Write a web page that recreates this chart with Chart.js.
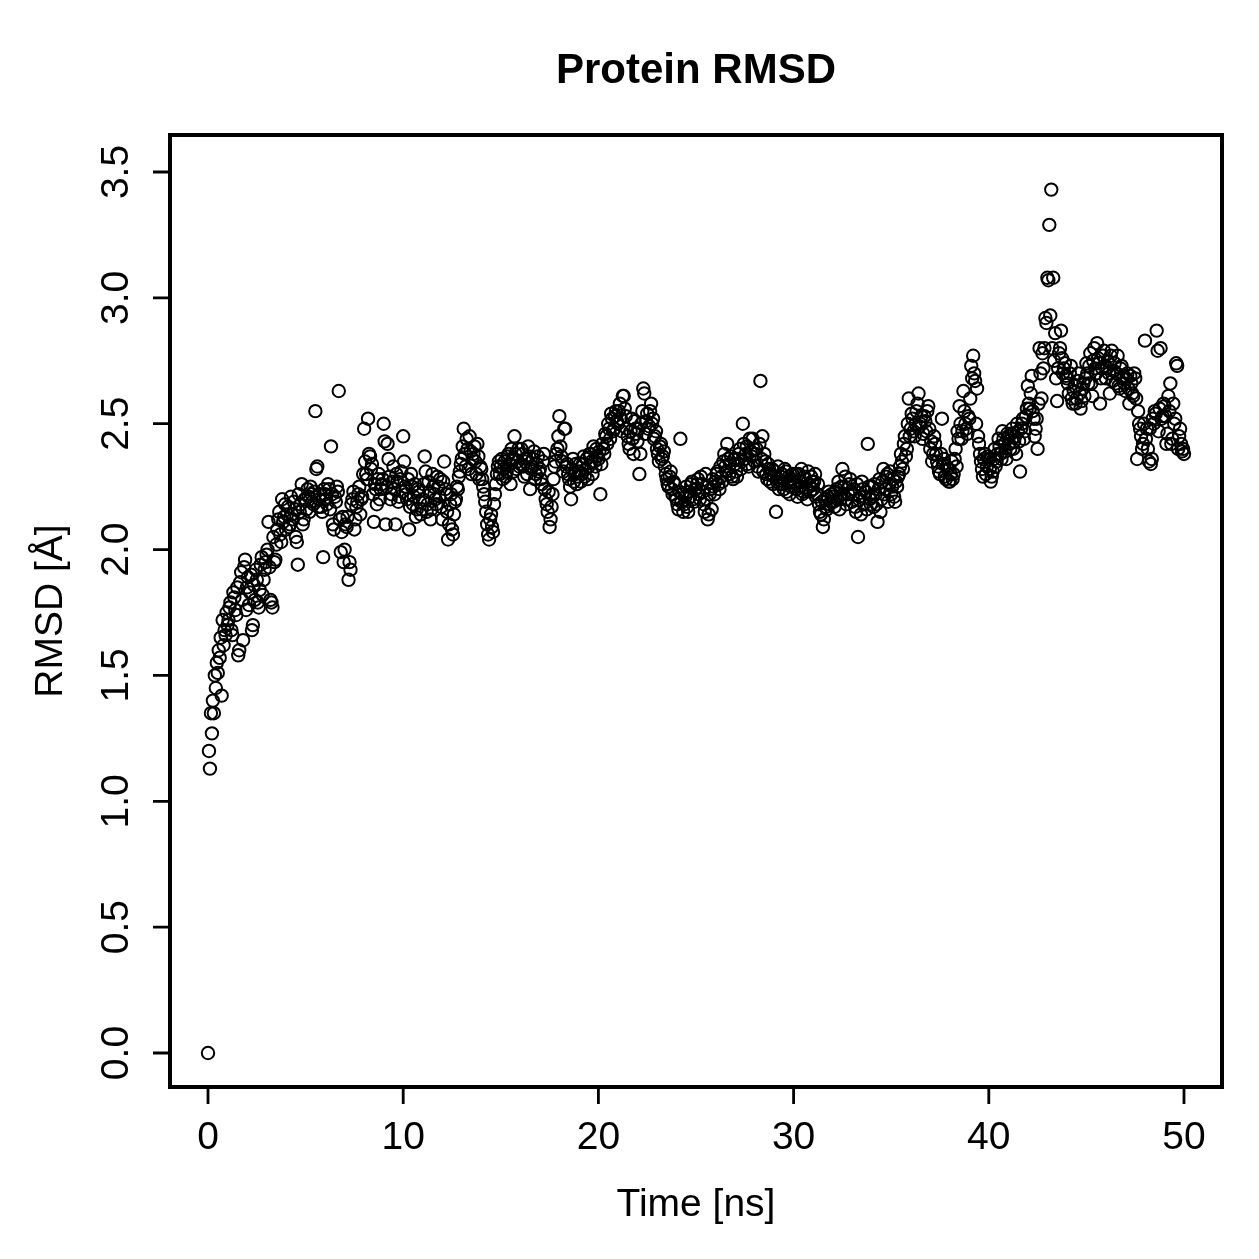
<!DOCTYPE html>
<html>
<head>
<meta charset="utf-8">
<script src="https://cdn.jsdelivr.net/npm/chart.js@4"></script>
<style>
  html, body { margin: 0; padding: 0; background: #fff; }
  #rmsdChart { display: block; }
</style>
</head>
<body>
<canvas id="rmsdChart" width="1259" height="1259"></canvas>
<script>
const chartTitle = 'Protein RMSD';
const xAxisTitle = 'Time [ns]';
const yAxisTitle = 'RMSD [Å]';
const xTicks = [0, 10, 20, 30, 40, 50];
const yTicks = [0.0, 0.5, 1.0, 1.5, 2.0, 2.5, 3.0, 3.5];
const frameStep = 0.1; // ns between rows of rmsdFrames

// RMSD at t = 0.0, 0.1, ... 50.0 ns (one row per ns)
const rmsdFrames = [
    0.00, 1.13, 1.27, 1.35, 1.45, 1.51, 1.57, 1.42, 1.62, 1.66,
    1.70, 1.77, 1.68, 1.83, 1.76, 1.85, 1.60, 1.91, 1.64, 1.96,
    1.85, 1.78, 1.90, 1.70, 1.80, 1.88, 1.77, 1.94, 1.82, 1.92,
    1.98, 2.11, 1.80, 1.77, 1.95, 2.02, 2.12, 2.06, 2.20, 2.13,
    2.08, 2.17, 2.10, 2.14, 2.19, 2.05, 1.94, 2.15, 2.26, 2.12,
    2.20, 2.24, 2.15, 2.22, 2.18, 2.55, 2.33, 2.20, 2.17, 1.97,
    2.22, 2.18, 2.24, 2.41, 2.10, 2.21, 2.25, 2.63, 1.99, 2.13,
    2.00, 2.09, 1.88, 1.92, 2.20, 2.08, 2.17, 2.22, 2.14, 2.21,
    2.48, 2.30, 2.52, 2.37, 2.34, 2.11, 2.24, 2.28, 2.20, 2.26,
    2.50, 2.10, 2.42, 2.29, 2.22, 2.33, 2.10, 2.27, 2.21, 2.31,
    2.45, 2.25, 2.20, 2.08, 2.30, 2.18, 2.26, 2.16, 2.23, 2.14,
    2.20, 2.37, 2.15, 2.27, 2.12, 2.30, 2.22, 2.18, 2.25, 2.28,
    2.12, 2.35, 2.22, 2.04, 2.18, 2.08, 2.14, 2.20, 2.24, 2.31,
    2.36, 2.48, 2.33, 2.40, 2.45, 2.30, 2.38, 2.35, 2.42, 2.28,
    2.32, 2.25, 2.19, 2.10, 2.04, 2.14, 2.07, 2.22, 2.30, 2.35,
    2.33, 2.28, 2.35, 2.31, 2.38, 2.26, 2.36, 2.45, 2.32, 2.40,
    2.34, 2.38, 2.29, 2.36, 2.41, 2.24, 2.33, 2.39, 2.30, 2.37,
    2.32, 2.26, 2.38, 2.20, 2.15, 2.09, 2.17, 2.28, 2.35, 2.40,
    2.53, 2.37, 2.31, 2.48, 2.34, 2.28, 2.20, 2.36, 2.30, 2.26,
    2.31, 2.27, 2.34, 2.29, 2.36, 2.33, 2.38, 2.30, 2.35, 2.40,
    2.36, 2.22, 2.42, 2.38, 2.45, 2.50, 2.44, 2.52, 2.48, 2.55,
    2.50, 2.58, 2.47, 2.61, 2.53, 2.45, 2.40, 2.52, 2.38, 2.48,
    2.43, 2.30, 2.50, 2.64, 2.46, 2.54, 2.49, 2.58, 2.52, 2.45,
    2.40, 2.35, 2.42, 2.37, 2.33, 2.28, 2.25, 2.31, 2.22, 2.26,
    2.20, 2.16, 2.44, 2.22, 2.18, 2.25, 2.15, 2.21, 2.27, 2.19,
    2.24, 2.28, 2.20, 2.26, 2.18, 2.30, 2.12, 2.22, 2.16, 2.25,
    2.27, 2.31, 2.24, 2.29, 2.35, 2.33, 2.42, 2.30, 2.37, 2.28,
    2.34, 2.29, 2.38, 2.32, 2.50, 2.36, 2.41, 2.33, 2.39, 2.44,
    2.35, 2.40, 2.31, 2.67, 2.45, 2.38, 2.30, 2.34, 2.27, 2.32,
    2.29, 2.15, 2.33, 2.26, 2.30, 2.24, 2.31, 2.27, 2.22, 2.28,
    2.25, 2.30, 2.21, 2.27, 2.32, 2.23, 2.28, 2.20, 2.26, 2.29,
    2.24, 2.30, 2.22, 2.18, 2.14, 2.09, 2.20, 2.16, 2.23, 2.19,
    2.21, 2.17, 2.24, 2.27, 2.20, 2.32, 2.25, 2.18, 2.22, 2.28,
    2.19, 2.24, 2.15, 2.05, 2.21, 2.27, 2.18, 2.23, 2.42, 2.20,
    2.25, 2.17, 2.22, 2.11, 2.28, 2.20, 2.32, 2.24, 2.30, 2.26,
    2.22, 2.28, 2.19, 2.25, 2.30, 2.38, 2.32, 2.45, 2.40, 2.60,
    2.48, 2.52, 2.45, 2.55, 2.62, 2.50, 2.44, 2.53, 2.47, 2.57,
    2.40, 2.35, 2.45, 2.38, 2.33, 2.30, 2.52, 2.36, 2.28, 2.32,
    2.27, 2.35, 2.30, 2.40, 2.47, 2.57, 2.44, 2.63, 2.50, 2.46,
    2.52, 2.73, 2.77, 2.67, 2.64, 2.42, 2.35, 2.29, 2.38, 2.33,
    2.36, 2.27, 2.31, 2.40, 2.35, 2.44, 2.38, 2.47, 2.42, 2.36,
    2.45, 2.40, 2.48, 2.43, 2.38, 2.47, 2.31, 2.50, 2.44, 2.53,
    2.65, 2.56, 2.69, 2.52, 2.48, 2.40, 2.80, 2.60, 2.72, 2.92,
    3.08, 3.29, 3.43, 3.08, 2.86, 2.59, 2.78, 2.87, 2.70, 2.74,
    2.68, 2.62, 2.73, 2.58, 2.65, 2.60, 2.70, 2.56, 2.64, 2.61,
    2.74, 2.66, 2.78, 2.61, 2.80, 2.70, 2.76, 2.58, 2.72, 2.79,
    2.68, 2.75, 2.62, 2.79, 2.71, 2.66, 2.77, 2.64, 2.73, 2.69,
    2.63, 2.70, 2.58, 2.66, 2.61, 2.68, 2.36, 2.50, 2.45, 2.42,
    2.83, 2.48, 2.35, 2.34, 2.52, 2.55, 2.87, 2.47, 2.80, 2.53,
    2.57, 2.42, 2.61, 2.66, 2.44, 2.50, 2.74, 2.40, 2.48, 2.39,
    2.38
];

// RMSD at the frames in between, t = 0.05, 0.15, ... 49.95 ns
const rmsdMidFrames = [
    1.20, 1.35, 1.40, 1.50, 1.55, 1.60, 1.65, 1.72, 1.68, 1.75,
    1.72, 1.79, 1.66, 1.81, 1.74, 1.58, 1.87, 1.80, 1.93, 1.76,
    1.89, 1.83, 1.68, 1.86, 1.92, 1.79, 1.84, 1.97, 1.88, 1.95,
    2.00, 1.93, 1.79, 2.05, 1.96, 2.08, 2.15, 2.03, 2.11, 2.18,
    2.14, 2.09, 2.21, 2.12, 2.16, 2.03, 2.22, 2.18, 2.10, 2.20,
    2.16, 2.21, 2.25, 2.19, 2.23, 2.32, 2.17, 2.22, 2.15, 2.24,
    2.20, 2.26, 2.16, 2.22, 2.08, 2.19, 2.23, 2.12, 2.07, 1.95,
    2.10, 2.13, 1.95, 2.18, 2.23, 2.12, 2.19, 2.25, 2.20, 2.30,
    2.35, 2.28, 2.38, 2.32, 2.22, 2.26, 2.18, 2.30, 2.24, 2.28,
    2.43, 2.25, 2.36, 2.20, 2.27, 2.24, 2.30, 2.19, 2.28, 2.23,
    2.35, 2.22, 2.28, 2.17, 2.25, 2.21, 2.13, 2.24, 2.19, 2.16,
    2.26, 2.31, 2.18, 2.23, 2.16, 2.25, 2.20, 2.29, 2.21, 2.17,
    2.27, 2.24, 2.15, 2.10, 2.22, 2.06, 2.19, 2.25, 2.29, 2.34,
    2.41, 2.38, 2.44, 2.32, 2.39, 2.36, 2.41, 2.30, 2.37, 2.33,
    2.28, 2.22, 2.15, 2.06, 2.12, 2.09, 2.18, 2.26, 2.33, 2.30,
    2.36, 2.32, 2.29, 2.37, 2.34, 2.40, 2.31, 2.38, 2.35, 2.33,
    2.40, 2.33, 2.35, 2.30, 2.37, 2.32, 2.36, 2.28, 2.34, 2.31,
    2.28, 2.35, 2.24, 2.18, 2.23, 2.12, 2.22, 2.33, 2.38, 2.45,
    2.41, 2.35, 2.48, 2.33, 2.30, 2.25, 2.32, 2.27, 2.34, 2.29,
    2.34, 2.30, 2.37, 2.32, 2.28, 2.38, 2.35, 2.41, 2.33, 2.37,
    2.39, 2.34, 2.40, 2.46, 2.42, 2.48, 2.54, 2.47, 2.53, 2.51,
    2.55, 2.52, 2.61, 2.56, 2.48, 2.42, 2.47, 2.44, 2.51, 2.46,
    2.48, 2.38, 2.55, 2.62, 2.51, 2.48, 2.55, 2.50, 2.44, 2.47,
    2.38, 2.41, 2.36, 2.39, 2.30, 2.26, 2.29, 2.24, 2.27, 2.21,
    2.18, 2.23, 2.19, 2.15, 2.21, 2.17, 2.23, 2.26, 2.20, 2.24,
    2.26, 2.22, 2.29, 2.23, 2.15, 2.20, 2.14, 2.24, 2.28, 2.22,
    2.30, 2.26, 2.33, 2.27, 2.38, 2.31, 2.36, 2.34, 2.29, 2.36,
    2.31, 2.36, 2.40, 2.35, 2.42, 2.38, 2.34, 2.44, 2.37, 2.40,
    2.38, 2.33, 2.42, 2.36, 2.31, 2.35, 2.28, 2.32, 2.30, 2.26,
    2.31, 2.27, 2.24, 2.29, 2.26, 2.32, 2.23, 2.29, 2.25, 2.30,
    2.27, 2.24, 2.30, 2.25, 2.22, 2.29, 2.24, 2.31, 2.23, 2.27,
    2.27, 2.21, 2.26, 2.15, 2.19, 2.12, 2.17, 2.21, 2.18, 2.22,
    2.19, 2.23, 2.20, 2.16, 2.25, 2.22, 2.29, 2.20, 2.26, 2.23,
    2.22, 2.17, 2.26, 2.20, 2.14, 2.24, 2.21, 2.16, 2.25, 2.18,
    2.21, 2.26, 2.18, 2.24, 2.15, 2.27, 2.22, 2.29, 2.19, 2.31,
    2.25, 2.21, 2.27, 2.29, 2.33, 2.35, 2.42, 2.37, 2.50, 2.45,
    2.54, 2.47, 2.50, 2.58, 2.49, 2.53, 2.46, 2.51, 2.55, 2.48,
    2.43, 2.38, 2.42, 2.35, 2.31, 2.38, 2.34, 2.29, 2.33, 2.27,
    2.30, 2.28, 2.36, 2.33, 2.44, 2.50, 2.47, 2.55, 2.48, 2.53,
    2.60, 2.68, 2.70, 2.50, 2.45, 2.38, 2.32, 2.36, 2.30, 2.37,
    2.32, 2.29, 2.36, 2.33, 2.38, 2.41, 2.36, 2.44, 2.39, 2.46,
    2.42, 2.46, 2.40, 2.45, 2.50, 2.43, 2.48, 2.52, 2.47, 2.56,
    2.58, 2.62, 2.55, 2.45, 2.52, 2.58, 2.70, 2.78, 2.80, 2.90,
    3.07, 2.93, 2.80, 2.75, 2.68, 2.72, 2.80, 2.76, 2.72, 2.69,
    2.66, 2.70, 2.60, 2.63, 2.58, 2.67, 2.62, 2.59, 2.66, 2.68,
    2.70, 2.73, 2.66, 2.75, 2.72, 2.82, 2.74, 2.68, 2.77, 2.73,
    2.72, 2.70, 2.77, 2.67, 2.74, 2.70, 2.65, 2.72, 2.68, 2.66,
    2.68, 2.64, 2.69, 2.62, 2.70, 2.60, 2.55, 2.48, 2.40, 2.50,
    2.44, 2.40, 2.48, 2.36, 2.50, 2.54, 2.79, 2.56, 2.52, 2.58,
    2.53, 2.46, 2.55, 2.42, 2.58, 2.52, 2.73, 2.45, 2.42, 2.40
];

const points = [];
rmsdFrames.forEach((v, i) => {
    points.push({ x: i * frameStep, y: v });
    if (i < rmsdMidFrames.length) {
        points.push({ x: i * frameStep + frameStep / 2, y: rmsdMidFrames[i] });
    }
});

const labelFont = '39px "Liberation Sans", Arial, sans-serif';
const titleFont = 'bold 42px "Liberation Sans", Arial, sans-serif';

// base-graphics style frame, ticks and labels
const rAxes = {
    id: 'rAxes',
    afterDraw(chart) {
        const ctx = chart.ctx;
        const area = chart.chartArea;
        const xs = chart.scales.x;
        const ys = chart.scales.y;
        ctx.save();
        ctx.strokeStyle = '#000';
        ctx.fillStyle = '#000';

        ctx.lineWidth = 4;
        ctx.strokeRect(area.left, area.top, area.right - area.left, area.bottom - area.top);

        ctx.lineWidth = 2.8;
        ctx.beginPath();
        xTicks.forEach(t => {
            const px = xs.getPixelForValue(t);
            ctx.moveTo(px, area.bottom);
            ctx.lineTo(px, area.bottom + 17);
        });
        yTicks.forEach(t => {
            const py = ys.getPixelForValue(t);
            ctx.moveTo(area.left, py);
            ctx.lineTo(area.left - 17, py);
        });
        ctx.stroke();

        ctx.font = labelFont;
        ctx.textAlign = 'center';
        ctx.textBaseline = 'alphabetic';
        xTicks.forEach(t => {
            ctx.fillText(String(t), xs.getPixelForValue(t), 1149);
        });
        yTicks.forEach(t => {
            ctx.save();
            ctx.translate(128, ys.getPixelForValue(t));
            ctx.rotate(-Math.PI / 2);
            ctx.fillText(t.toFixed(1), 0, 0);
            ctx.restore();
        });

        const midX = (area.left + area.right) / 2;
        const midY = (area.top + area.bottom) / 2;
        ctx.fillText(xAxisTitle, midX, 1216);
        ctx.save();
        ctx.translate(62, midY);
        ctx.rotate(-Math.PI / 2);
        ctx.fillText(yAxisTitle, 0, 0);
        ctx.restore();

        ctx.font = titleFont;
        ctx.fillText(chartTitle, midX, 83);
        ctx.restore();
    }
};

new Chart(document.getElementById('rmsdChart').getContext('2d'), {
    type: 'scatter',
    data: {
        datasets: [{
            label: 'RMSD',
            data: points,
            pointStyle: 'circle',
            pointRadius: 6.2,
            pointBorderWidth: 2,
            pointBorderColor: '#000',
            pointBackgroundColor: 'rgba(0,0,0,0)'
        }]
    },
    options: {
        responsive: false,
        animation: false,
        layout: {
            padding: { left: 170, top: 135, right: 37, bottom: 172 }
        },
        scales: {
            x: { type: 'linear', display: false, min: -1.947, max: 51.947 },
            y: { type: 'linear', display: false, min: -0.135, max: 3.647 }
        },
        plugins: {
            legend: { display: false },
            tooltip: { enabled: false }
        }
    },
    plugins: [rAxes]
});
</script>
</body>
</html>
